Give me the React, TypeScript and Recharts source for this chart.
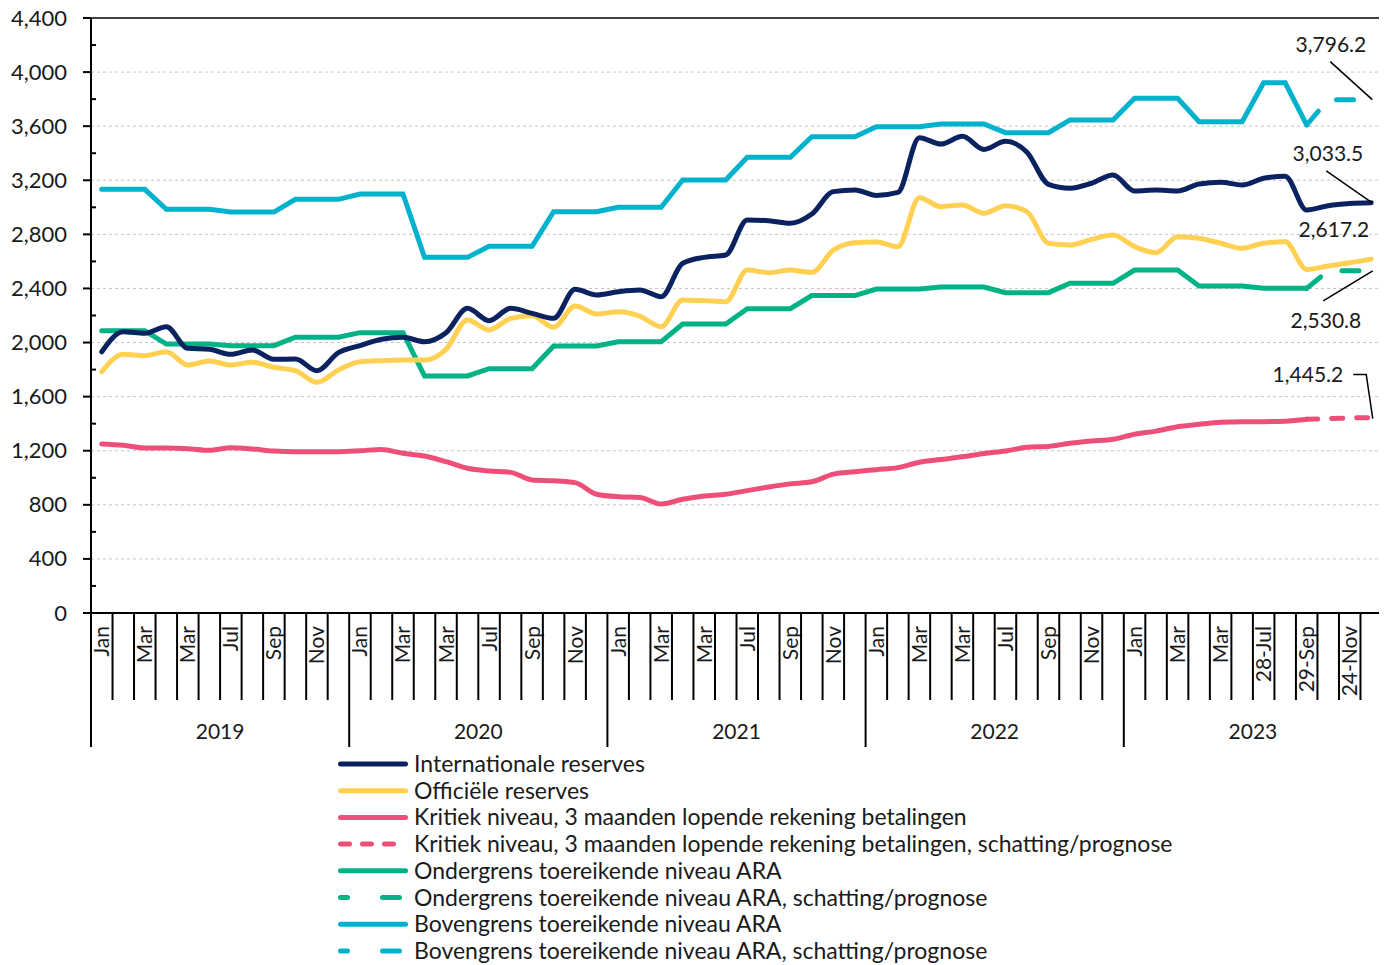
import { LineChart, Line, XAxis, YAxis, CartesianGrid, ReferenceLine, ReferenceDot } from "recharts";

// maandelijkse punten jan 2019 - dec 2023 (60)
const IDX = [
  0, 1, 2, 3, 4, 5, 6, 7, 8, 9, 10, 11, 12, 13, 14, 15, 16, 17, 18, 19,
  20, 21, 22, 23, 24, 25, 26, 27, 28, 29, 30, 31, 32, 33, 34, 35, 36, 37, 38, 39,
  40, 41, 42, 43, 44, 45, 46, 47, 48, 49, 50, 51, 52, 53, 54, 55, 56, 57, 58, 59,
];

const MONTH_LABELS = [
  "Jan", "", "Mar", "", "Mar", "", "Jul", "", "Sep", "", "Nov", "",
  "Jan", "", "Mar", "", "Mar", "", "Jul", "", "Sep", "", "Nov", "",
  "Jan", "", "Mar", "", "Mar", "", "Jul", "", "Sep", "", "Nov", "",
  "Jan", "", "Mar", "", "Mar", "", "Jul", "", "Sep", "", "Nov", "",
  "Jan", "", "Mar", "", "Mar", "", "28-Jul", "", "29-Sep", "", "24-Nov", "",
];

const YEARS = ["2019", "2020", "2021", "2022", "2023"];

const Y_TICKS = [0, 200, 400, 600, 800, 1000, 1200, 1400, 1600, 1800, 2000, 2200, 2400, 2600, 2800, 3000, 3200, 3400, 3600, 3800, 4000, 4200, 4400];
const GRID_VALUES = [400, 800, 1200, 1600, 2000, 2400, 2800, 3200, 3600, 4000];

// Internationale reserves
const INTL = [
  1932, 2080, 2068, 2117, 1957, 1950, 1913, 1945, 1876, 1878, 1792, 1925,
  1977, 2024, 2039, 2006, 2073, 2253, 2162, 2253, 2216, 2179, 2394, 2352,
  2376, 2389, 2339, 2586, 2630, 2647, 2906, 2901, 2882, 2950, 3116, 3128,
  3088, 3110, 3515, 3468, 3525, 3428, 3488, 3408, 3170, 3141, 3178, 3239,
  3121, 3128, 3121, 3172, 3185, 3165, 3215, 3230, 2980, 3012, 3028, 3033.5,
];

// Officiele reserves
const OFF = [
  1784, 1913, 1903, 1932, 1834, 1863, 1834, 1854, 1817, 1792, 1706, 1797,
  1858, 1866, 1871, 1871, 1950, 2167, 2093, 2179, 2199, 2113, 2270, 2211,
  2228, 2196, 2117, 2315, 2310, 2302, 2536, 2517, 2536, 2519, 2684, 2738,
  2744, 2709, 3070, 3005, 3017, 2956, 3012, 2968, 2734, 2721, 2763, 2795,
  2709, 2664, 2783, 2771, 2734, 2697, 2735, 2745, 2541, 2566, 2590, 2617.2,
];

// Kritiek niveau (t/m index 56), daarna schatting
const KRIT = [
  1250, 1240, 1220, 1220, 1215, 1203, 1222, 1213, 1198, 1193, 1193, 1193,
  1200, 1210, 1181, 1161, 1119, 1070, 1050, 1040, 984, 978, 964, 878,
  860, 855, 806, 841, 865, 878, 905, 932, 955, 970, 1027, 1045,
  1060, 1075, 1115, 1135, 1155, 1180, 1198, 1225, 1232, 1255, 1272, 1285,
  1322, 1345, 1378, 1395, 1410, 1415, 1415, 1418, 1432,
];
const KRIT_P = [1432, 1438, 1442, 1445.2];

// Ondergrens ARA
const ONDG = [
  2088, 2088, 2088, 1989, 1989, 1989, 1977, 1977, 1977, 2039, 2039, 2039,
  2073, 2073, 2073, 1753, 1753, 1753, 1807, 1807, 1807, 1975, 1975, 1975,
  2006, 2006, 2006, 2137, 2137, 2137, 2250, 2250, 2250, 2347, 2347, 2347,
  2396, 2396, 2396, 2411, 2411, 2411, 2369, 2369, 2369, 2438, 2438, 2438,
  2536, 2536, 2536, 2418, 2418, 2418, 2401, 2401, 2401,
];
const ONDG_P = [2401, 2530.8, 2530.8, 2530.8];

// Bovengrens ARA
const BOVG = [
  3133, 3133, 3133, 2985, 2985, 2985, 2965, 2965, 2965, 3059, 3059, 3059,
  3098, 3098, 3098, 2630, 2630, 2630, 2712, 2712, 2712, 2968, 2968, 2968,
  3000, 3000, 3000, 3202, 3202, 3202, 3370, 3370, 3370, 3522, 3522, 3522,
  3596, 3596, 3596, 3616, 3616, 3616, 3552, 3552, 3552, 3646, 3646, 3646,
  3806, 3806, 3806, 3633, 3633, 3633, 3921, 3921, 3609,
];
const BOVG_P = [3609, 3796.2, 3796.2, 3796.2];

const P_START = 56;

const NAVY = "#0b2260";
const YELLOW = "#ffd052";
const PINK = "#ee4f78";
const GREEN = "#00b386";
const CYAN = "#00b2cb";
const TXT = "#1a1a1a";
const FONT = 21;

const W = 1379;
const H = 758;
const MARGIN = { top: 18, right: 5, left: 0, bottom: 0 };
const Y_AXIS_W = 83;
const X_AXIS_H = 145;
const BAND = (W - Y_AXIS_W - MARGIN.right) / IDX.length;

const data = IDX.map((i) => ({
  i,
  intl: INTL[i],
  off: OFF[i],
  krit: i < KRIT.length ? KRIT[i] : null,
  kritP: i >= P_START ? KRIT_P[i - P_START] : null,
  ondg: i < ONDG.length ? ONDG[i] : null,
  ondgP: i >= P_START ? ONDG_P[i - P_START] : null,
  bovg: i < BOVG.length ? BOVG[i] : null,
  bovgP: i >= P_START ? BOVG_P[i - P_START] : null,
}));

const fmt = (v: number) => v.toLocaleString("en-US", { minimumFractionDigits: 1, maximumFractionDigits: 1 });

function XTick(props: any) {
  const { x, y, payload } = props;
  const i = payload.value as number;
  const left = x - BAND / 2;
  const yearStart = i % 12 === 0;
  const label = MONTH_LABELS[i];
  return (
    <g>
      <line x1={left} x2={left} y1={y} y2={y + (yearStart ? 134 : 87)} stroke="#000" strokeWidth={2} />
      {i === IDX.length - 1 && (
        <line x1={x + BAND / 2} x2={x + BAND / 2} y1={y} y2={y + 134} stroke="#000" strokeWidth={2} />
      )}
      {label && (
        <text transform={`translate(${x + 7.5},${y + 13}) rotate(-90)`} textAnchor="end" fontSize={FONT} fill={TXT}>
          {label}
        </text>
      )}
      {yearStart && (
        <text x={left + BAND * 6} y={y + 126} textAnchor="middle" fontSize={FONT} fill={TXT}>
          {YEARS[i / 12]}
        </text>
      )}
    </g>
  );
}

function YTick(props: any) {
  const { x, y, payload } = props;
  const v = payload.value as number;
  const major = v % 400 === 0;
  return (
    <g>
      {major ? (
        <line x1={x - 8} x2={x} y1={y} y2={y} stroke="#000" strokeWidth={2} />
      ) : (
        <line x1={x} x2={x + 5} y1={y} y2={y} stroke="#000" strokeWidth={2} />
      )}
      {major && (
        <text x={x - 24} y={y + 7.5} textAnchor="end" fontSize={22} fill={TXT}>
          {v.toLocaleString("en-US")}
        </text>
      )}
    </g>
  );
}

// eindlabels: tekst + verbindingslijn, relatief t.o.v. het eindpunt
function EndLabel(kind: string, value: number) {
  return (props: any) => {
    const { cx, cy } = props;
    const t = fmt(value);
    if (kind === "bovg")
      return (
        <g>
          <line x1={cx - 41} y1={cy - 38} x2={cx + 1} y2={cy} stroke="#000" strokeWidth={1.5} />
          <text x={cx - 5} y={cy - 48} textAnchor="end" fontSize={FONT} fill={TXT}>{t}</text>
        </g>
      );
    if (kind === "intl")
      return (
        <g>
          <line x1={cx - 45} y1={cy - 32} x2={cx + 1} y2={cy} stroke="#000" strokeWidth={1.5} />
          <text x={cx - 8} y={cy - 42} textAnchor="end" fontSize={FONT} fill={TXT}>{t}</text>
        </g>
      );
    if (kind === "off")
      return (
        <text x={cx - 2} y={cy - 22} textAnchor="end" fontSize={FONT} fill={TXT}>{t}</text>
      );
    if (kind === "ondg")
      return (
        <g>
          <line x1={cx - 48} y1={cy + 30} x2={cx + 1.5} y2={cy} stroke="#000" strokeWidth={1.5} />
          <text x={cx - 10} y={cy + 57} textAnchor="end" fontSize={FONT} fill={TXT}>{t}</text>
        </g>
      );
    return (
      <g>
        <polyline
          points={`${cx - 18},${cy - 43} ${cx - 5},${cy - 43} ${cx + 1.5},${cy + 1}`}
          fill="none"
          stroke="#000"
          strokeWidth={1.5}
        />
        <text x={cx - 28} y={cy - 36} textAnchor="end" fontSize={FONT} fill={TXT}>{t}</text>
      </g>
    );
  };
}

const LEGEND = [
  { name: "Internationale reserves", color: NAVY, dash: undefined },
  { name: "Officiële reserves", color: YELLOW, dash: undefined },
  { name: "Kritiek niveau, 3 maanden lopende rekening betalingen", color: PINK, dash: undefined },
  { name: "Kritiek niveau, 3 maanden lopende rekening betalingen, schatting/prognose", color: PINK, dash: "9 13" },
  { name: "Ondergrens toereikende niveau ARA", color: GREEN, dash: undefined },
  { name: "Ondergrens toereikende niveau ARA, schatting/prognose", color: GREEN, dash: "7 35 17 100" },
  { name: "Bovengrens toereikende niveau ARA", color: CYAN, dash: undefined },
  { name: "Bovengrens toereikende niveau ARA, schatting/prognose", color: CYAN, dash: "7 35 17 100" },
];

function ChartLegend() {
  return (
    <svg width={1000} height={225} style={{ position: "absolute", left: 330, top: 743 }}>
      {LEGEND.map((l, k) => {
        const cy = 21 + k * 26.7;
        return (
          <g key={l.name}>
            <line x1={2.5} x2={67.5} y1={cy} y2={cy} stroke={l.color} strokeWidth={5} strokeLinecap="round" strokeDasharray={l.dash} />
            <text x={76} y={cy + 8} fontSize={23} fill={TXT}>{l.name}</text>
          </g>
        );
      })}
    </svg>
  );
}

export default function App() {
  const last = IDX[IDX.length - 1];
  return (
    <div style={{ position: "relative", top: -8, width: W, height: 957, fontFamily: "Lato, 'Open Sans', sans-serif" }}>
      <LineChart width={W} height={H} data={data} margin={MARGIN}>
        <CartesianGrid horizontal vertical={false} horizontalValues={GRID_VALUES} stroke="#c4c4c4" strokeDasharray="3 3" />
        <XAxis
          type="number"
          dataKey="i"
          domain={[-0.5, 59.5]}
          ticks={IDX}
          interval={0}
          allowDataOverflow
          height={X_AXIS_H}
          tick={<XTick />}
          tickLine={false}
          tickSize={0}
          tickMargin={0}
          axisLine={{ stroke: "#000", strokeWidth: 2 }}
        />
        <YAxis
          domain={[0, 4400]}
          ticks={Y_TICKS}
          interval={0}
          width={Y_AXIS_W}
          tick={<YTick />}
          tickLine={false}
          tickSize={0}
          tickMargin={0}
          axisLine={{ stroke: "#000", strokeWidth: 2 }}
        />
        <ReferenceLine y={4400} stroke="#000" strokeWidth={1.5} />
        <ReferenceLine x={59.5} stroke="#000" strokeWidth={1.5} />

        <Line dataKey="krit" type="monotone" stroke={PINK} strokeWidth={5} dot={false} strokeLinecap="round" isAnimationActive={false} />
        <Line dataKey="kritP" type="monotone" stroke={PINK} strokeWidth={5} dot={false} strokeLinecap="round" strokeDasharray="11 14" isAnimationActive={false} />
        <Line dataKey="ondg" type="linear" stroke={GREEN} strokeWidth={5} dot={false} strokeLinecap="round" isAnimationActive={false} />
        <Line dataKey="ondgP" type="linear" stroke={GREEN} strokeWidth={5} dot={false} strokeLinecap="round" strokeDasharray="18 23.5 17 100" isAnimationActive={false} />
        <Line dataKey="bovg" type="linear" stroke={CYAN} strokeWidth={5} dot={false} strokeLinecap="round" isAnimationActive={false} />
        <Line dataKey="bovgP" type="linear" stroke={CYAN} strokeWidth={5} dot={false} strokeLinecap="round" strokeDasharray="18 23.5 17 100" isAnimationActive={false} />
        <Line dataKey="off" type="monotone" stroke={YELLOW} strokeWidth={5} dot={false} strokeLinecap="round" isAnimationActive={false} />
        <Line dataKey="intl" type="monotone" stroke={NAVY} strokeWidth={5} dot={false} strokeLinecap="round" isAnimationActive={false} />

        <ReferenceDot x={last} y={BOVG_P[BOVG_P.length - 1]} r={0} shape={EndLabel("bovg", BOVG_P[BOVG_P.length - 1])} />
        <ReferenceDot x={last} y={INTL[INTL.length - 1]} r={0} shape={EndLabel("intl", INTL[INTL.length - 1])} />
        <ReferenceDot x={last} y={OFF[OFF.length - 1]} r={0} shape={EndLabel("off", OFF[OFF.length - 1])} />
        <ReferenceDot x={last} y={ONDG_P[ONDG_P.length - 1]} r={0} shape={EndLabel("ondg", ONDG_P[ONDG_P.length - 1])} />
        <ReferenceDot x={last} y={KRIT_P[KRIT_P.length - 1]} r={0} shape={EndLabel("krit", KRIT_P[KRIT_P.length - 1])} />
      </LineChart>
      <ChartLegend />
    </div>
  );
}
